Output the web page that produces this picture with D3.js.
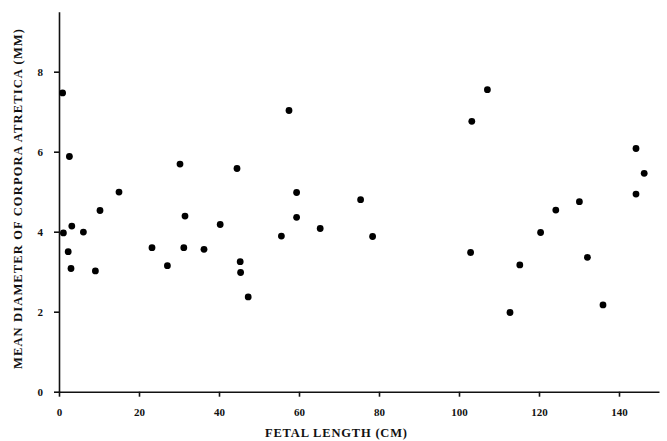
<html>
<head>
<meta charset="utf-8" />
<title>Mean diameter of corpora atretica vs fetal length</title>
<script src="https://cdn.jsdelivr.net/npm/d3@7"></script>
<style>
body { margin: 0; background: #fff; }
text { font-family: "Liberation Serif", "DejaVu Serif", serif; fill: #111; }
.axis path, .axis line { stroke: #111; stroke-width: 1.6; }
</style>
</head>
<body>
<script>
// fetal length (cm)
var fetalLength = [0.9, 2.6, 1.1, 3.2, 2.3, 3.0, 6.1, 10.25, 9.1, 30.25, 15, 31.5, 23.25, 27.1, 31.2,
	57.5, 44.5, 59.4, 75.4, 40.3, 59.4, 65.3, 55.6, 78.4, 36.25, 45.3, 45.4, 47.3,
	107.1, 103.2, 144.25, 146.3, 144.25, 130.1, 124.2, 120.4, 102.9, 115.2, 132.1, 136, 112.75];
// mean diameter (mm)
var meanDiameter = [7.47, 5.88, 3.97, 4.14, 3.5, 3.08, 3.99, 4.53, 3.02, 5.69, 4.99, 4.39, 3.6, 3.15, 3.6,
	7.03, 5.58, 4.98, 4.8, 4.18, 4.36, 4.08, 3.89, 3.88, 3.56, 3.25, 2.98, 2.37,
	7.55, 6.76, 6.08, 5.46, 4.94, 4.75, 4.54, 3.98, 3.48, 3.17, 3.36, 2.17, 1.98];
var xTicks = [0, 20, 40, 60, 80, 100, 120, 140];
var yTicks = [0, 2, 4, 6, 8];

var width = 667, height = 441;
var margin = {top: 11.7, right: 8, bottom: 49.3, left: 59};

var svg = d3.select("body").append("svg")
	.attr("width", width)
	.attr("height", height);

var xScale = d3.scaleLinear().domain([0, 150]).range([margin.left, width - margin.right]);
var yScale = d3.scaleLinear().domain([0, 9.5]).range([height - margin.bottom, margin.top]);

var points = fetalLength.map(function(d, i) { return {x: d, y: meanDiameter[i]}; });

svg.append("g")
	.attr("class", "axis")
	.attr("transform", "translate(0," + yScale(0) + ")")
	.call(d3.axisBottom(xScale).tickValues(xTicks).tickSize(5).tickSizeOuter(0).tickPadding(12))
	.selectAll("text")
	.attr("font-size", "11px")
	.attr("font-weight", "bold")
	.attr("font-family", "Liberation Serif, serif");

svg.append("g")
	.attr("class", "axis")
	.attr("transform", "translate(" + xScale(0) + ",0)")
	.call(d3.axisLeft(yScale).tickValues(yTicks).tickSize(5).tickSizeOuter(0).tickPadding(11))
	.selectAll("text")
	.attr("font-size", "11px")
	.attr("font-weight", "bold")
	.attr("font-family", "Liberation Serif, serif");

svg.append("g").selectAll("circle")
	.data(points)
	.enter().append("circle")
	.attr("cx", d => xScale(d.x))
	.attr("cy", d => yScale(d.y))
	.attr("r", 3.4)
	.attr("fill", "#000");

svg.append("text")
	.attr("x", 336)
	.attr("y", 437)
	.attr("text-anchor", "middle")
	.attr("font-size", "12.5px")
	.attr("font-weight", "bold")
	.attr("textLength", 142)
	.attr("lengthAdjust", "spacing")
	.text("FETAL LENGTH (CM)");

svg.append("text")
	.attr("transform", "translate(22,199) rotate(-90)")
	.attr("text-anchor", "middle")
	.attr("font-size", "12.5px")
	.attr("font-weight", "bold")
	.attr("textLength", 340)
	.attr("lengthAdjust", "spacing")
	.text("MEAN DIAMETER OF CORPORA ATRETICA (MM)");
</script>
</body>
</html>
